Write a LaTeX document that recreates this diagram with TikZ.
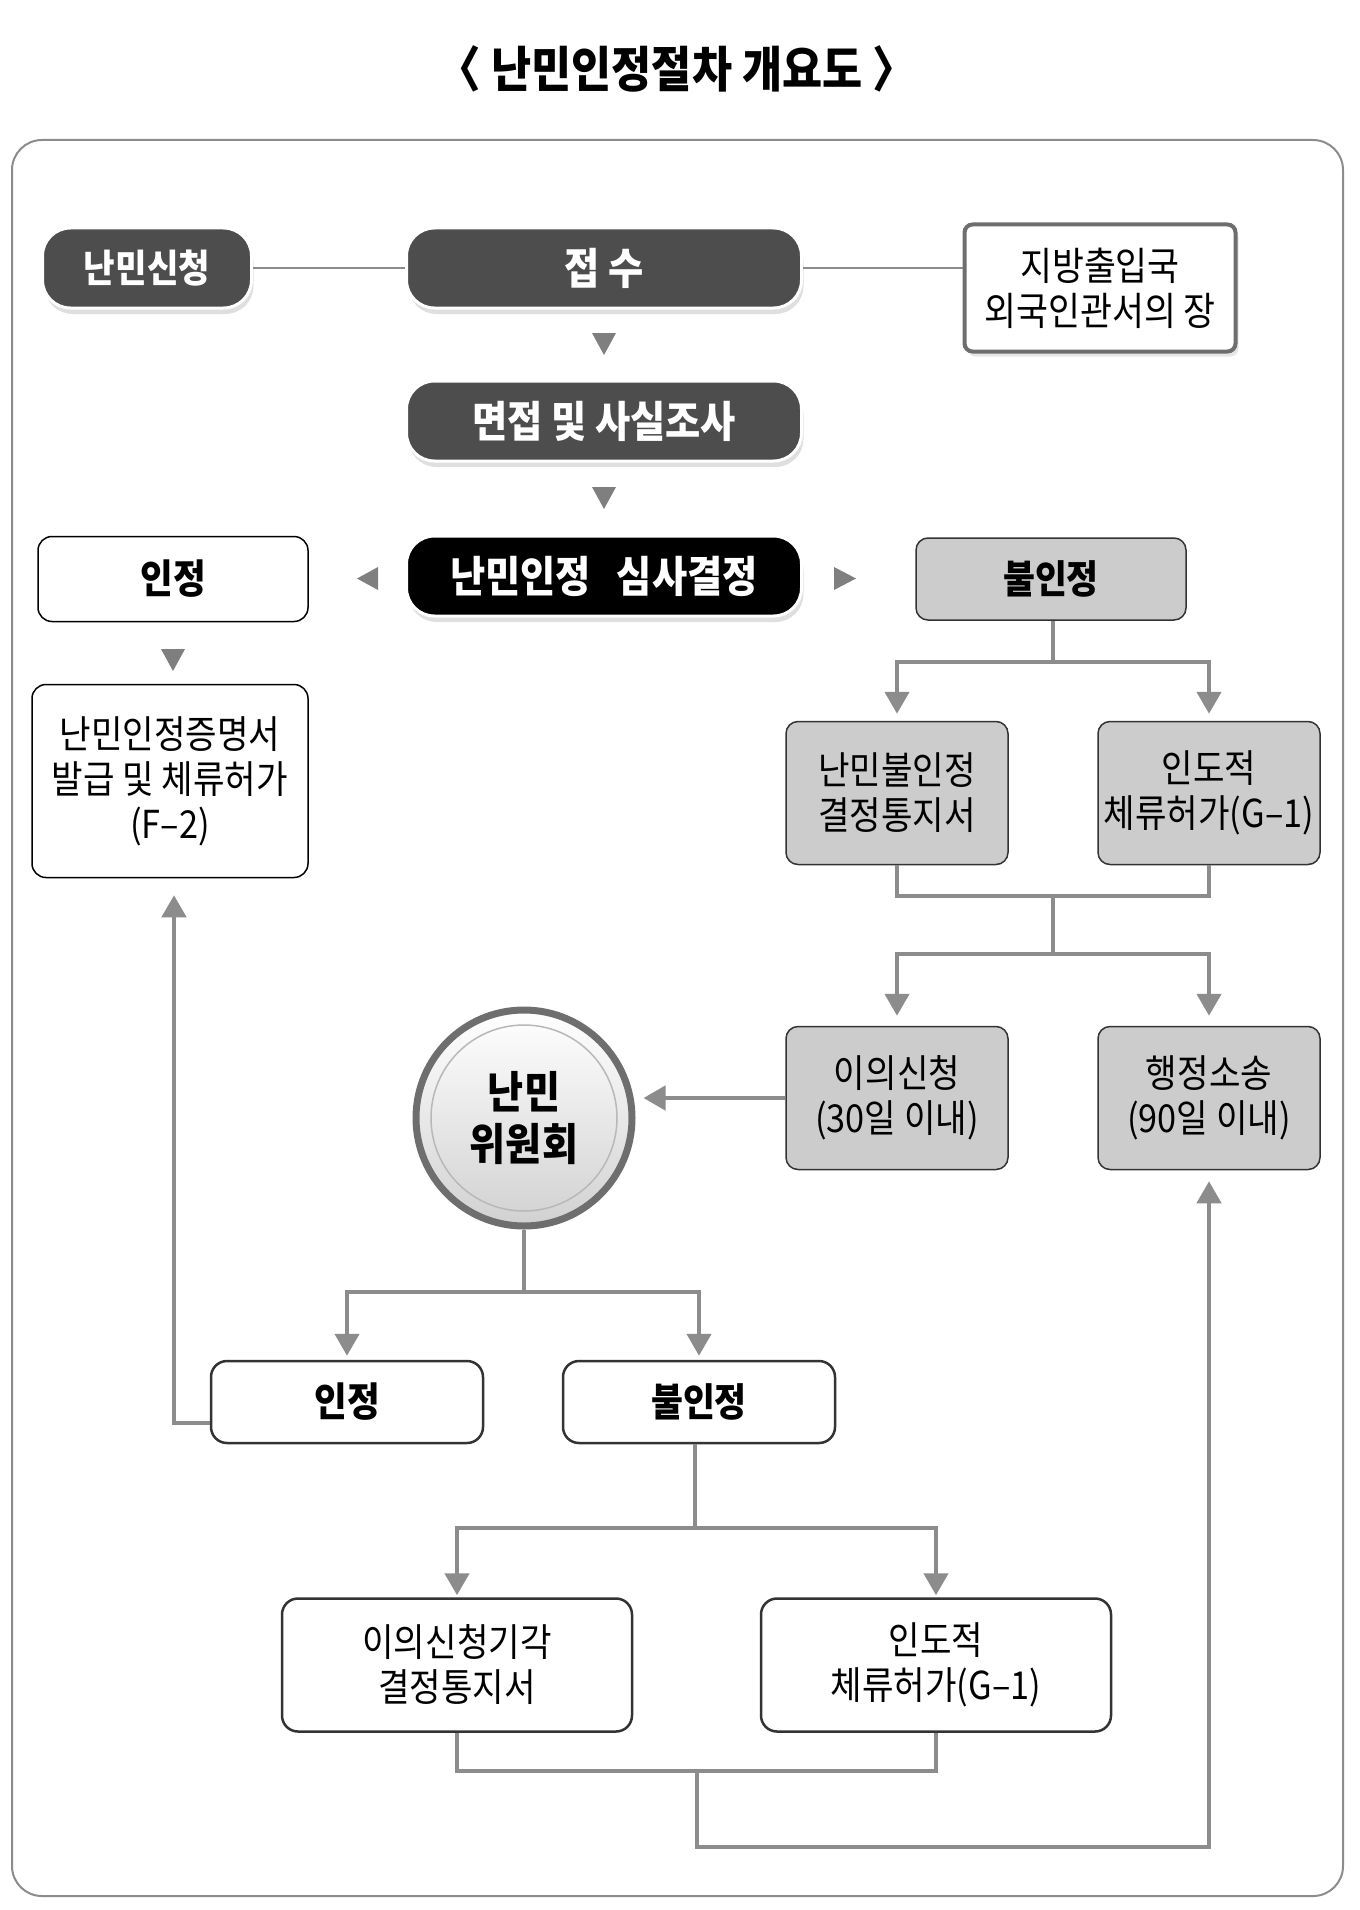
\documentclass[tikz,border=0pt]{standalone}
\usepackage{fontspec}
\setmainfont[FakeStretch=0.89]{Noto Sans CJK KR}
\usetikzlibrary{arrows.meta,shadows,positioning}
\definecolor{darkfill}{HTML}{4D4D4D}
\definecolor{lightfill}{HTML}{CCCCCC}
\definecolor{linegray}{HTML}{8C8C8C}
\definecolor{trigray}{HTML}{7F7F7F}
\definecolor{ringgray}{HTML}{6E6E6E}
\definecolor{edgegray}{HTML}{333333}
\newcommand{\txt}[1]{\fontsize{#1}{45}\selectfont}

\begin{document}
\begin{tikzpicture}[x=1pt,y=-1pt,
	darkbox/.style={draw=white, line width=3pt, fill=darkfill, text=white, rounded corners=28pt,
		minimum width=395pt, minimum height=80pt, font=\txt{43}\bfseries,
		drop shadow={opacity=0.25, shadow xshift=2pt, shadow yshift=-6pt}},
	officebox/.style={draw=ringgray, line width=4pt, fill=white, rounded corners=8pt, align=center,
		minimum width=271pt, minimum height=127pt, font=\txt{39},
		drop shadow={opacity=0.2, shadow xshift=3pt, shadow yshift=-5pt}},
	whitebox/.style={draw=black, line width=1.5pt, fill=white, rounded corners=14pt, align=center,
		minimum width=270pt, minimum height=85pt, font=\txt{38.5}},
	lowbox/.style={draw=edgegray, line width=2.5pt, fill=white, rounded corners=16pt, align=center,
		minimum width=272pt, minimum height=82pt, font=\txt{38.5}},
	graybox/.style={draw=edgegray, line width=1.5pt, fill=lightfill, rounded corners=12pt, align=center,
		minimum width=222pt, minimum height=143pt, font=\txt{38.5}},
	committee/.style={circle, draw=ringgray, line width=7pt, minimum size=216pt, inner sep=0pt,
		top color=white, bottom color=black!18, align=center, font=\fontsize{44}{52}\selectfont\bfseries},
	conn/.style={draw=linegray, line width=4.5pt, -{Triangle[width=24pt,length=22pt]}},
	thinline/.style={draw=linegray, line width=2pt}]
	\useasboundingbox (0,0) rectangle (1359,1910);
	
	\node[font=\fontsize{49}{54}\selectfont\bfseries] (title) at (677,69) {〈 난민인정절차 개요도 〉};
	\draw[draw=linegray, line width=2pt, rounded corners=30pt] (12,140) rectangle (1343,1896);
	
	\node[darkbox, minimum width=209pt, font=\txt{38.5}\bfseries] (apply) at (147,268) {난민신청};
	\node[darkbox] (recv) at (604,268) {접 수};
	\node[officebox] (office) at (1100,288) {지방출입국\\외국인관서의 장};
	\node[darkbox] (interview) at (604,421) {면접 및 사실조사};
	\node[darkbox, fill=black] (review) at (604,576) {난민인정\hspace{0.6em}심사결정};
	
	\node[whitebox, font=\txt{40}\bfseries] (ok1) at (173,579) {인정};
	\node[graybox, minimum width=270pt, minimum height=82pt, font=\txt{39}\bfseries] (no1) at (1051,579) {불인정};
	\node[whitebox, minimum width=276pt, minimum height=193pt] (cert) at (170,781) {난민인정증명서\\발급 및 체류허가\\(F–2)};
	
	\node[graybox] (notice) at (897,793) {난민불인정\\결정통지서};
	\node[graybox] (human1) at (1209,793) {인도적\\체류허가(G–1)};
	\node[graybox] (objection) at (897,1098) {이의신청\\(30일 이내)};
	\node[graybox] (suit) at (1209,1098) {행정소송\\(90일 이내)};
	
	\node[committee] (cmt) at (524,1118) {난민\\위원회};
	\draw[black!28, line width=1.5pt] (cmt.center) circle (93);
	
	\node[lowbox, font=\txt{40}\bfseries] (ok2) at (347,1402) {인정};
	\node[lowbox, font=\txt{39}\bfseries] (no2) at (699,1402) {불인정};
	\node[lowbox, minimum width=350pt, minimum height=133pt] (reject) at (457,1665) {이의신청기각\\결정통지서};
	\node[lowbox, minimum width=350pt, minimum height=133pt] (human2) at (936,1665) {인도적\\체류허가(G–1)};
	
	\fill[trigray] (592,333) -- (616,333) -- (604,355) -- cycle;
	\fill[trigray] (592,487) -- (616,487) -- (604,509) -- cycle;
	\fill[trigray] (161,649) -- (185,649) -- (173,671) -- cycle;
	\fill[trigray] (378,567) -- (378,590) -- (357,578.5) -- cycle;
	\fill[trigray] (834,567) -- (834,590) -- (856,578.5) -- cycle;
	
	\draw[thinline] (apply) -- (recv);
	\draw[thinline] (recv.east) -- (recv.east -| office.west);
	
	\coordinate (j1) at (1053,662);
	\coordinate (m1) at (1053,896);
	\coordinate (s1) at (1053,954);
	\draw[conn, shorten >=7pt] (no1.south -| j1) -- (j1) -| (notice.north);
	\draw[conn, shorten >=7pt] (j1) -| (human1.north);
	\draw[conn, -] (notice.south) |- (m1) -| (human1.south);
	\draw[conn, shorten >=10pt] (m1) -- (s1) -| (objection.north);
	\draw[conn, shorten >=10pt] (s1) -| (suit.north);
	\draw[conn, shorten >=8pt] (objection.west) -- (objection.west -| cmt.east);
	
	\coordinate (j3) at (524,1292);
	\draw[conn, shorten >=4pt] (cmt.south) -- (j3) -| (ok2.north);
	\draw[conn, shorten >=4pt] (j3) -| (no2.north);
	\draw[conn, shorten >=17pt] ([yshift=-21pt]ok2.west) -| ([xshift=4pt]cert.south);
	
	\coordinate (j4) at (695,1528);
	\coordinate (m2) at (697,1771);
	\draw[conn, shorten >=2pt] (no2.south -| j4) -- (j4) -| (reject.north);
	\draw[conn, shorten >=2pt] (j4) -| (human2.north);
	\draw[conn, -] (reject.south) |- (m2) -| (human2.south);
	\draw[conn, shorten >=11pt] (m2) -- (m2 |- 0,1847) -| (suit.south);
\end{tikzpicture}
\end{document}
